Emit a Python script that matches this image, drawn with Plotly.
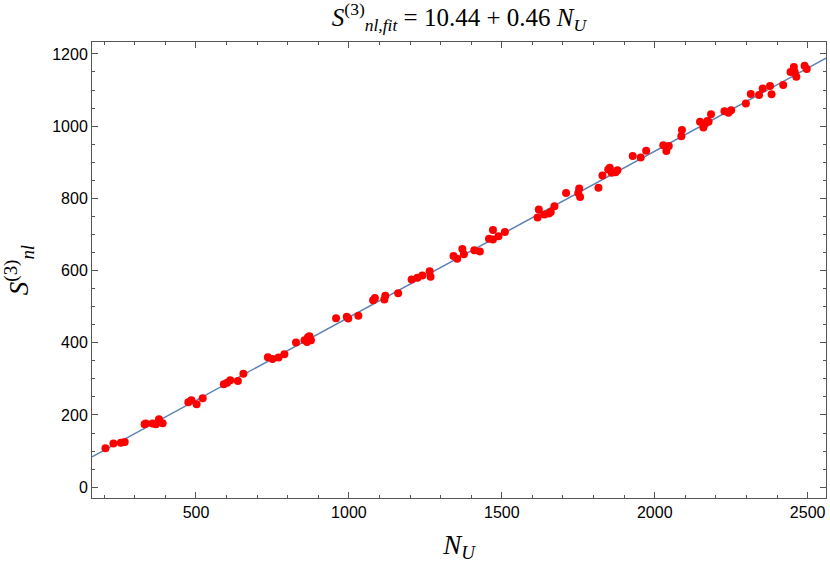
import plotly.graph_objects as go

# Data
n_u = [204, 230, 254, 267, 332, 336, 358, 369, 379, 391,
       475, 485, 502, 522, 591, 602, 612, 637, 655,
       735, 750, 770, 789, 827, 855, 863, 866, 871, 876,
       958, 993, 998, 1031, 1079, 1085, 1116, 1119, 1161,
       1205, 1224, 1240, 1264, 1267, 1342, 1354, 1371, 1376, 1410, 1428,
       1458, 1471, 1471, 1489, 1510, 1617, 1621, 1639, 1654, 1660, 1672,
       1710, 1750, 1753, 1756, 1816, 1829, 1848, 1853, 1859, 1872, 1878,
       1928, 1954, 1972, 2028, 2038, 2046, 2087, 2089,
       2148, 2159, 2164, 2172, 2176, 2184, 2228, 2241, 2250,
       2298, 2314, 2341, 2353, 2377, 2382, 2420, 2444, 2455, 2458, 2463, 2490, 2497]
s_nl = [108, 121, 123, 125, 174, 176, 176, 174, 188, 177,
        235, 241, 230, 246, 285, 289, 296, 294, 314,
        360, 355, 359, 368, 401, 407, 402, 415, 418, 407,
        468, 472, 467, 475, 518, 524, 520, 530, 537,
        575, 580, 586, 598, 583, 640, 633, 660, 645, 656, 653,
        688, 712, 686, 695, 707, 747, 769, 755, 758, 762, 778,
        815, 815, 827, 804, 829, 863, 880, 885, 871, 872, 878,
        917, 913, 932, 947, 931, 945, 972, 989,
        1012, 996, 1006, 1014, 1012, 1033, 1041, 1037, 1044,
        1063, 1089, 1086, 1104, 1111, 1088, 1114, 1150, 1164, 1149, 1137, 1167, 1158]

INTERCEPT = 10.44
SLOPE = 0.46
X_RANGE = [160, 2560]
Y_RANGE = [-30, 1233]

fit_x = X_RANGE
fit_y = [INTERCEPT + SLOPE * x for x in fit_x]

fig = go.Figure()
fig.add_trace(go.Scatter(x=fit_x, y=fit_y, mode="lines",
                         line=dict(color="#5E81B5", width=1.5),
                         hoverinfo="skip", showlegend=False))
fig.add_trace(go.Scatter(x=n_u, y=s_nl, mode="markers",
                         marker=dict(color="#FF0000", size=8, line=dict(width=0)),
                         showlegend=False))

frame_color = "#555555"
tick_font = dict(family="Liberation Sans, Arial, sans-serif", size=16, color="#000000")
math_font = dict(family="Liberation Serif, Times New Roman, serif", size=27, color="#000000")

fig.update_layout(
    width=830, height=565,
    margin=dict(l=92, r=4, t=42, b=67),
    plot_bgcolor="white", paper_bgcolor="white",
    title=dict(text="<i>S</i><sup>(3)</sup><sub><i>nl,fit</i></sub> = 10.44 + 0.46 <i>N</i><sub><i>U</i></sub>",
               x=0.553, xanchor="center", y=0.985, yanchor="top",
               font=dict(family="Liberation Serif, Times New Roman, serif", size=25, color="#000000")),
)
fig.update_xaxes(range=X_RANGE, tickvals=[500, 1000, 1500, 2000, 2500],
                 ticks="inside", ticklen=6, tickcolor=frame_color, tickwidth=1,
                 minor=dict(dtick=100, tick0=0, ticks="inside", ticklen=3, tickcolor=frame_color),
                 showline=True, linecolor=frame_color, linewidth=1, mirror="ticks",
                 showgrid=False, zeroline=False, tickfont=tick_font, automargin=False,
                 title=dict(text="<i>N</i><sub><i>U</i></sub>", font=math_font, standoff=14))
fig.update_yaxes(range=Y_RANGE, tickvals=[0, 200, 400, 600, 800, 1000, 1200],
                 ticks="inside", ticklen=6, tickcolor=frame_color, tickwidth=1,
                 minor=dict(dtick=50, tick0=0, ticks="inside", ticklen=3, tickcolor=frame_color),
                 showline=True, linecolor=frame_color, linewidth=1, mirror="ticks",
                 showgrid=False, zeroline=False, tickfont=tick_font, automargin=False,
                 title=dict(text="<i>S</i><sup>(3)</sup><sub><i>nl</i></sub>", font=math_font, standoff=16))

fig.write_html("out.html", config={"displayModeBar": False},
               post_script="document.body.style.margin='0';")
